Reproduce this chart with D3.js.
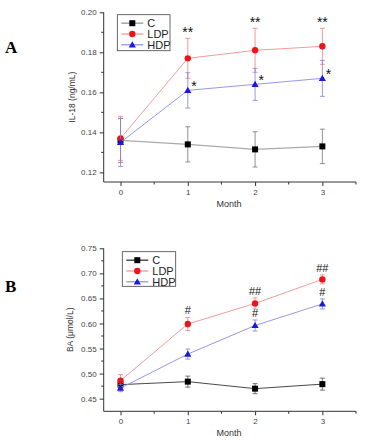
<!DOCTYPE html>
<html><head><meta charset="utf-8">
<script src="https://cdn.jsdelivr.net/npm/d3@7"></script>
<style>
html,body{margin:0;padding:0;background:#fff;}
svg{display:block;font-family:"Liberation Sans",Arial,sans-serif;}
</style></head>
<body><svg id="chart" width="371" height="442"></svg>
<script>
// ---------- data ----------
const months = [0, 1, 2, 3];
const seriesNames = ["C", "LDP", "HDP"];
const xTicks = [0, 1, 2, 3];

// Panel A : IL-18 (ng/mL)
const il18C    = [0.136, 0.134, 0.1315, 0.133];
const il18CErr = [0.011, 0.0088, 0.0088, 0.0086];
const il18LDP    = [0.137, 0.177, 0.181, 0.183];
const il18LDPErr = [0.011, 0.010, 0.011, 0.009];
const il18HDP    = [0.135, 0.161, 0.164, 0.167];
const il18HDPErr = [0.012, 0.0088, 0.008, 0.009];
const il18Ticks = [0.12, 0.14, 0.16, 0.18, 0.20];
const il18Minor = [0.13, 0.15, 0.17, 0.19];
const il18Marks = [
  {series: "LDP", month: 1, text: "**"}, {series: "LDP", month: 2, text: "**"}, {series: "LDP", month: 3, text: "**"},
  {series: "HDP", month: 1, text: "*"},  {series: "HDP", month: 2, text: "*"},  {series: "HDP", month: 3, text: "*"}
];

// Panel B : BA (μmol/L)
const baC    = [0.478, 0.484, 0.470, 0.479];
const baCErr = [0.008, 0.011, 0.010, 0.012];
const baLDP    = [0.486, 0.599, 0.640, 0.688];
const baLDPErr = [0.012, 0.013, 0.011, 0.009];
const baHDP    = [0.471, 0.539, 0.596, 0.639];
const baHDPErr = [0.007, 0.010, 0.011, 0.010];
const baTicks = [0.45, 0.50, 0.55, 0.60, 0.65, 0.70, 0.75];
const baMinor = [0.475, 0.525, 0.575, 0.625, 0.675, 0.725];
const baMarks = [
  {series: "LDP", month: 1, text: "#"}, {series: "LDP", month: 2, text: "##"}, {series: "LDP", month: 3, text: "##"},
  {series: "HDP", month: 2, text: "#"}, {series: "HDP", month: 3, text: "#"}
];

// ---------- drawing ----------
const svg = d3.select("#chart");
const styles = {
  C:   {marker: "#000", line: "#aaaaaa", err: "#888"},
  LDP: {marker: "#e8161b", line: "#f09090", err: "#f08080"},
  HDP: {marker: "#1a1ad8", line: "#8c8ce8", err: "#8080e0"}
};

function drawPanel(cfg) {
  const g = svg.append("g");
  const x = d3.scaleLinear().domain([-0.25, 3.5]).range([103.7, 356]);
  const y = d3.scaleLinear().domain(cfg.yDomain).range([cfg.yBottom, cfg.yTop]);
  const axisColor = "#333";

  // y axis
  const ya = g.append("g").attr("transform", `translate(${x(-0.25)},0)`)
    .call(d3.axisLeft(y).tickValues(cfg.yTicks).tickSize(4).tickPadding(3).tickFormat(cfg.yFmt));
  ya.select(".domain").attr("stroke", axisColor).attr("d", `M0,${y(cfg.yDomain[0])}V${y(cfg.yDomain[1])}`);
  ya.selectAll(".tick line").attr("stroke", axisColor);
  ya.selectAll(".tick text").attr("fill", "#444").style("font-size", "8px");
  ya.selectAll(".minor").data(cfg.yMinor).enter().append("line")
    .attr("x1", 0).attr("x2", -2.5).attr("y1", d => y(d)).attr("y2", d => y(d)).attr("stroke", axisColor);

  // x axis
  const xa = g.append("g").attr("transform", `translate(0,${y(cfg.yDomain[0])})`)
    .call(d3.axisBottom(x).tickValues(xTicks).tickSize(4).tickPadding(3).tickFormat(d3.format("d")));
  xa.select(".domain").attr("stroke", axisColor).attr("d", `M${x(-0.25)},0H${x(3.5)}`);
  xa.selectAll(".tick line").attr("stroke", axisColor);
  xa.selectAll(".tick text").attr("fill", "#444").style("font-size", "8px");
  xa.selectAll(".minor").data([0.5, 1.5, 2.5, 3.5]).enter().append("line")
    .attr("x1", d => x(d)).attr("x2", d => x(d)).attr("y1", 0).attr("y2", 2.5).attr("stroke", axisColor);

  // labels
  g.append("text").attr("x", 229).attr("y", cfg.monthY).attr("text-anchor", "middle")
    .style("font-size", "9px").attr("fill", "#333").text("Month");
  g.append("text").attr("transform", `translate(${cfg.yLabelX},${(cfg.yTop + y(cfg.yDomain[0])) / 2}) rotate(-90)`)
    .attr("text-anchor", "middle").style("font-size", "8.5px").attr("fill", "#333").text(cfg.yLabel);
  g.append("text").attr("x", 5).attr("y", cfg.letterY).style("font-family", "'Liberation Serif','Times New Roman',serif")
    .style("font-weight", "bold").style("font-size", "17px").text(cfg.letter);

  // series
  cfg.series.forEach(s => {
    const st = styles[s.name];
    const lineColor = s.name === "C" ? cfg.cLine : st.line;
    const pts = months.map((m, i) => ({m, v: s.values[i], e: s.errs[i]}));
    g.append("path").datum(pts).attr("fill", "none").attr("stroke", lineColor).attr("stroke-width", s.name === "C" ? cfg.cWidth : 0.9)
      .attr("d", d3.line().x(d => x(d.m)).y(d => y(d.v)));
    const eg = g.append("g").attr("stroke", s.name === "C" ? cfg.cErr : st.err).attr("stroke-width", 0.8);
    pts.forEach(d => {
      eg.append("line").attr("x1", x(d.m)).attr("x2", x(d.m)).attr("y1", y(d.v - d.e)).attr("y2", y(d.v + d.e));
      [d.v - d.e, d.v + d.e].forEach(v => eg.append("line").attr("x1", x(d.m) - 2.5).attr("x2", x(d.m) + 2.5)
        .attr("y1", y(v)).attr("y2", y(v)));
    });
    pts.forEach(d => drawMarker(g, s.name, x(d.m), y(d.v)));
  });

  // significance marks
  cfg.marks.forEach(mk => {
    const s = cfg.series.find(q => q.name === mk.series);
    const i = months.indexOf(mk.month);
    const v = s.values[i], e = s.errs[i];
    let tx, ty, anchor;
    if (mk.text.startsWith("*") && mk.series === "HDP") {
      tx = x(mk.month) + 3.5; ty = y(v) + 1; anchor = "start";
    } else {
      tx = x(mk.month); ty = y(v + e) - (mk.text.startsWith("*") ? 1 : 3); anchor = "middle";
    }
    g.append("text").attr("x", tx).attr("y", ty).attr("text-anchor", anchor)
      .style("font-size", mk.text.startsWith("*") ? "14px" : "11px").attr("fill", "#111").text(mk.text);
  });

  // legend
  const lg = g.append("g");
  lg.append("rect").attr("x", cfg.legend.x).attr("y", cfg.legend.y).attr("width", cfg.legend.w).attr("height", cfg.legend.h)
    .attr("fill", "#fff").attr("stroke", "#444").attr("stroke-width", 0.8);
  seriesNames.forEach((n, i) => {
    const yy = cfg.legend.y + 8.5 + i * 10.8;
    const lx = cfg.legend.x + 4;
    const st = styles[n];
    lg.append("line").attr("x1", lx).attr("x2", lx + 22).attr("y1", yy).attr("y2", yy)
      .attr("stroke", n === "C" ? cfg.cLine : st.line).attr("stroke-width", n === "C" ? cfg.cWidth + 0.4 : 1.2);
    drawMarker(lg, n, lx + 11, yy);
    lg.append("text").attr("x", lx + 26).attr("y", yy + 4).style("font-size", "11px").attr("fill", "#222").text(n);
  });
}

function drawMarker(g, name, cx, cy) {
  const c = styles[name].marker;
  if (name === "C") {
    g.append("rect").attr("x", cx - 3).attr("y", cy - 3).attr("width", 6).attr("height", 6).attr("fill", c);
  } else if (name === "LDP") {
    g.append("circle").attr("cx", cx).attr("cy", cy).attr("r", 3.2).attr("fill", c);
  } else {
    g.append("path").attr("d", `M${cx},${cy - 3.6}L${cx + 3.6},${cy + 2.6}L${cx - 3.6},${cy + 2.6}Z`).attr("fill", c);
  }
}

drawPanel({
  letter: "A", letterY: 53,
  yDomain: [0.1152, 0.20], yTop: 12.3, yBottom: 182,
  yTicks: il18Ticks, yMinor: il18Minor, yFmt: d3.format(".2f"),
  yLabel: "IL-18 (ng/mL)", yLabelX: 75, monthY: 207,
  cLine: "#aaaaaa", cErr: "#777", cWidth: 1.2,
  series: [
    {name: "C", values: il18C, errs: il18CErr},
    {name: "LDP", values: il18LDP, errs: il18LDPErr},
    {name: "HDP", values: il18HDP, errs: il18HDPErr}
  ],
  marks: il18Marks,
  legend: {x: 117.3, y: 14.7, w: 52.7, h: 36}
});

drawPanel({
  letter: "B", letterY: 292,
  yDomain: [0.4248, 0.75], yTop: 248.3, yBottom: 411.3,
  yTicks: baTicks, yMinor: baMinor, yFmt: d3.format(".2f"),
  yLabel: "BA (μmol/L)", yLabelX: 73, monthY: 436,
  cLine: "#333", cErr: "#555", cWidth: 0.9,
  series: [
    {name: "C", values: baC, errs: baCErr},
    {name: "LDP", values: baLDP, errs: baLDPErr},
    {name: "HDP", values: baHDP, errs: baHDPErr}
  ],
  marks: baMarks,
  legend: {x: 122.3, y: 251.7, w: 53.4, h: 34.6}
});
</script></body></html>
